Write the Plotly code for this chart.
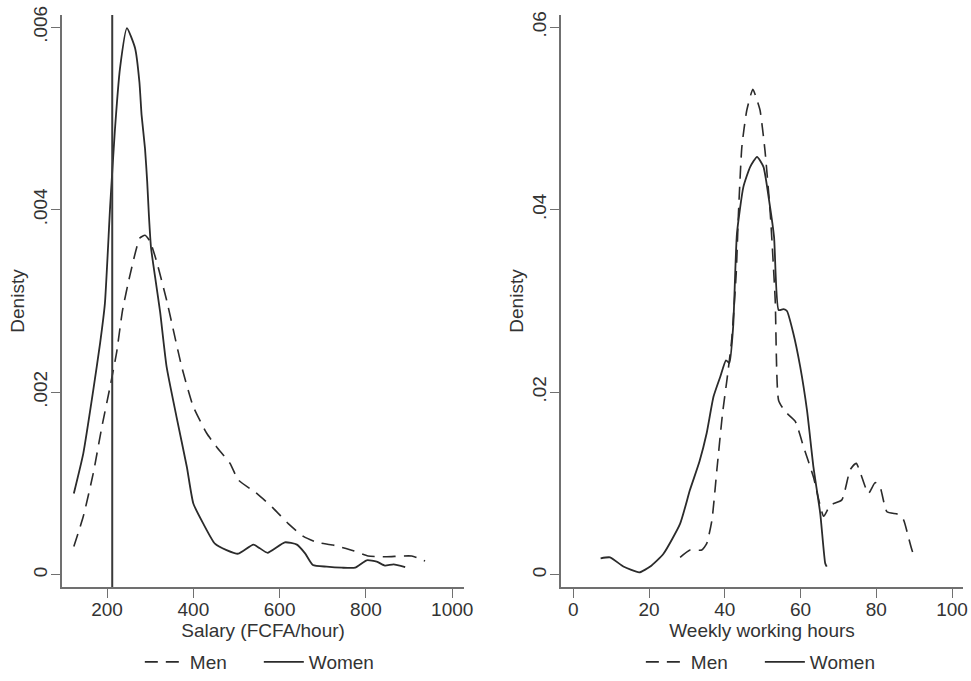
import plotly.graph_objects as go

# salary densities (FCFA/hour)
SAL_MEN_X = [123, 145, 168, 188, 207, 222, 236, 253, 276, 288, 300, 315, 338, 373, 400, 431, 454,
             485, 504, 547, 585, 620, 655, 686, 724, 771, 805, 848, 906, 937]
SAL_MEN_Y = [0.00031, 0.00064, 0.00111, 0.00162, 0.00206, 0.00243, 0.00290, 0.00328, 0.00369, 0.00372,
             0.00365, 0.00343, 0.00301, 0.00228, 0.00184, 0.00155, 0.00140, 0.00122, 0.00104, 0.00089,
             0.00073, 0.00056, 0.00042, 0.000355, 0.000325, 0.000263, 0.000205, 0.000197, 0.000205, 0.00015]
SAL_WOMEN_X = [123, 145, 168, 184, 195, 207, 218, 230, 246, 265, 275, 280, 288, 293, 297, 302, 313, 323,
               338, 361, 385, 400, 423, 450, 477, 504, 539, 554, 572, 612, 640, 659, 677, 709, 744,
               775, 802, 825, 844, 864, 891]
SAL_WOMEN_Y = [0.00089, 0.00133, 0.00202, 0.00254, 0.00297, 0.00402, 0.00486, 0.00555, 0.00599, 0.00577,
               0.00540, 0.00504, 0.00467, 0.00431, 0.00394, 0.00358, 0.00321, 0.00288, 0.00228, 0.00173,
               0.00118, 0.00078, 0.00056, 0.00034, 0.00027, 0.00023, 0.00033, 0.00029, 0.00024,
               0.000355, 0.00033, 0.000234, 0.000106, 0.000088, 0.000077, 0.000077, 0.000158,
               0.000143, 0.00010, 0.000114, 0.000084]
MIN_WAGE = 212

# weekly working hours densities
HRS_MEN_X = [28.2, 30.8, 33.9, 35.2, 36.6, 37.9, 39.4, 40.6, 41.8, 43.0, 43.6, 44.5, 45.8, 47.4, 48.5,
             49.3, 50.6, 52.0, 53.3, 54.2, 55.9, 58.6, 60.8, 63.4, 66.1, 67.8, 70.9, 73.1, 74.7, 77.9,
             79.7, 81.0, 82.8, 85.9, 87.2, 89.8, 90.7]
HRS_MEN_Y = [0.0019, 0.0027, 0.0027, 0.0034, 0.0060, 0.0115, 0.0177, 0.0215, 0.0257, 0.0330, 0.0396,
             0.0469, 0.0509, 0.0532, 0.0520, 0.0509, 0.0465, 0.0396, 0.0301, 0.0191, 0.0179, 0.0168,
             0.0140, 0.0107, 0.0064, 0.0076, 0.0082, 0.0115, 0.0122, 0.0089, 0.0101, 0.0096, 0.0069,
             0.0066, 0.0060, 0.0023, 0.0022]
HRS_WOMEN_X = [7.2, 9.7, 13.2, 17.4, 20.3, 23.8, 28.2, 30.8, 33.3, 35.2, 37.0, 38.8, 40.3, 41.2, 42.2,
               43.2, 44.9, 46.7, 48.5, 50.2, 51.8, 53.0, 54.2, 55.5, 56.4, 58.0, 59.9, 61.7, 63.4, 65.2,
               66.5, 66.9]
HRS_WOMEN_Y = [0.0018, 0.0019, 0.0009, 0.00026, 0.0009, 0.0023, 0.0056, 0.0093, 0.0124, 0.0155, 0.0195,
               0.0217, 0.0235, 0.0232, 0.0272, 0.0374, 0.0425, 0.0447, 0.0458, 0.0447, 0.0407, 0.0370,
               0.0290, 0.0291, 0.0289, 0.0266, 0.0228, 0.0180, 0.0118, 0.0067, 0.00125, 0.00088]

SAL_TICKS = [200, 400, 600, 800, 1000]
SAL_YTICKS = [0, 0.002, 0.004, 0.006]
SAL_YLABELS = ["0", ".002", ".004", ".006"]
HRS_TICKS = [0, 20, 40, 60, 80, 100]
HRS_YTICKS = [0, 0.02, 0.04, 0.06]
HRS_YLABELS = ["0", ".02", ".04", ".06"]

LINE = "#2b2b2b"
AXIS = "#707070"
TEXT = "#333333"
FONT = "Liberation Sans, Arial, sans-serif"
DASH = "13px,8px"

fig = go.Figure()


def add_pair(men_x, men_y, women_x, women_y, xa, ya, legend):
    fig.add_trace(go.Scatter(x=men_x, y=men_y, mode="lines", name="Men", xaxis=xa, yaxis=ya,
                             legend=legend, line=dict(color=LINE, width=1.6, dash=DASH,
                                                      shape="spline", smoothing=0.5)))
    fig.add_trace(go.Scatter(x=women_x, y=women_y, mode="lines", name="Women", xaxis=xa, yaxis=ya,
                             legend=legend, line=dict(color=LINE, width=1.8,
                                                      shape="spline", smoothing=0.5)))


add_pair(SAL_MEN_X, SAL_MEN_Y, SAL_WOMEN_X, SAL_WOMEN_Y, "x", "y", "legend")
add_pair(HRS_MEN_X, HRS_MEN_Y, HRS_WOMEN_X, HRS_WOMEN_Y, "x2", "y2", "legend2")

fig.add_shape(type="line", x0=MIN_WAGE, x1=MIN_WAGE, xref="x", yref="y domain", y0=0, y1=1,
              line=dict(color="#3a3a3a", width=2))

ydom = [0.138, 0.978]
title_font = dict(size=19, color=TEXT, family=FONT)
axis_common = dict(showline=True, linecolor=AXIS, linewidth=1.5, ticks="outside", ticklen=9,
                   tickcolor=AXIS, tickwidth=1.2, showgrid=False, zeroline=False, automargin=False,
                   tickfont=dict(size=19, color=TEXT, family=FONT), tickmode="array")
xaxis_common = dict(ticklabelstandoff=-5, **axis_common)
yaxis_common = dict(ticklabelstandoff=-3, tickangle=-90, **axis_common)
legend_common = dict(orientation="h", xanchor="left", y=0, yanchor="bottom",
                     entrywidth=64, entrywidthmode="pixels", itemwidth=40,
                     font=dict(size=19, color=TEXT, family=FONT), bgcolor="rgba(0,0,0,0)")

fig.update_layout(
    width=971, height=681,
    margin=dict(l=0, r=0, t=0, b=0),
    paper_bgcolor="white", plot_bgcolor="white",
    font=dict(family=FONT, size=19, color=TEXT),
    xaxis=dict(domain=[0.0639, 0.4779], range=[95.7, 1027.4], tickvals=SAL_TICKS,
               anchor="y", title=dict(text="Salary (FCFA/hour)", standoff=0, font=title_font),
               **xaxis_common),
    yaxis=dict(domain=ydom, range=[-0.000135, 0.006134], tickvals=SAL_YTICKS, ticktext=SAL_YLABELS,
               anchor="x", title=dict(text="Denisty", standoff=0, font=title_font),
               **yaxis_common),
    xaxis2=dict(domain=[0.5778, 0.9918], range=[-3.25, 102.9], tickvals=HRS_TICKS,
                anchor="y2", title=dict(text="Weekly working hours", standoff=0, font=title_font),
                **xaxis_common),
    yaxis2=dict(domain=ydom, range=[-0.00135, 0.06134], tickvals=HRS_YTICKS, ticktext=HRS_YLABELS,
                anchor="x2", title=dict(text="Denisty", standoff=0, font=title_font),
                **yaxis_common),
    legend=dict(x=0.144, **legend_common),
    legend2=dict(x=0.660, **legend_common),
)

# drop the page's default body margin so the figure sits at the window's corner
fig.write_html("out.html", config={"displayModeBar": False},
               post_script="document.body.style.margin = '0';")
